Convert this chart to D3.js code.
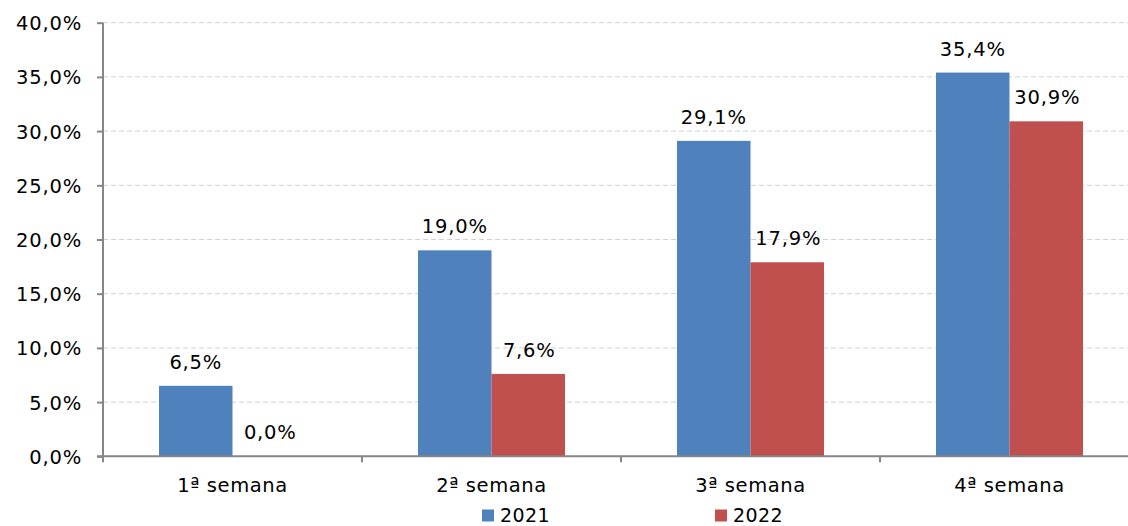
<!DOCTYPE html>
<html><head><meta charset="utf-8">
<script src="https://cdn.jsdelivr.net/npm/d3@7"></script>
<style>body{margin:0;background:#fff}svg{display:block}text{font-family:"DejaVu Sans",Verdana,sans-serif;fill:#000}</style>
</head><body><svg id="c" width="1128" height="526"></svg>
<script>
const categories = ["1ª semana","2ª semana","3ª semana","4ª semana"];
const series = ["2021","2022"];
const values2021 = [6.5, 19.0, 29.1, 35.4];
const values2022 = [0.0, 7.6, 17.9, 30.9];
const yTicks = [0,5,10,15,20,25,30,35,40];
const colors = ["#4F81BD","#C0504D"];

const svg = d3.select("#c");
const fs = 19.5;
const pLeft = 103, pRight = 1139, pTop = 22.7, pBottom = 456.3;
const x = d3.scaleBand().domain(categories).range([pLeft,pRight]).paddingInner(0).paddingOuter(0);
const y = d3.scaleLinear().domain([0,40]).range([pBottom, pTop]);
const fmt = v => v.toFixed(1).replace(".", ",") + "%";

// gridlines
svg.append("g").selectAll("line").data(yTicks.filter(d=>d>0)).join("line")
  .attr("x1", pLeft).attr("x2", 1128).attr("y1", d=>y(d)).attr("y2", d=>y(d))
  .attr("stroke","#d0d0d0").attr("stroke-width",1).attr("stroke-dasharray","5,3");

// y axis
const yAxis = svg.append("g").attr("transform",`translate(${pLeft},0)`)
  .call(d3.axisLeft(y).tickValues(yTicks).tickSize(6).tickPadding(15).tickFormat(fmt));
yAxis.select(".domain").attr("stroke","#868686").attr("stroke-width",2).attr("d",`M0,${pTop}V${pBottom}`);
yAxis.selectAll(".tick line").attr("stroke","#868686").attr("stroke-width",2);
yAxis.selectAll("text").style("font-size",fs+"px").style("letter-spacing","0.8px").attr("dy","0.36em").attr("fill","#000");

// bars
const bw = 73.5;
const sub = d3.scaleBand().domain(series).range([0, 2*bw]);
const data = categories.map((c,i)=>({c, vals:[values2021[i], values2022[i]]}));
const g = svg.append("g");
data.forEach(d=>{
  const x0 = x(d.c) + (x.bandwidth() - 2*bw)/2;
  d.vals.forEach((v,j)=>{
    const xb = x0 + sub(series[j]);
    if (v>0) g.append("rect").attr("x", xb).attr("y", y(v)).attr("width", sub.bandwidth()).attr("height", y(0)-y(v))
      .attr("fill", colors[j]);
    g.append("text").attr("x", xb + sub.bandwidth()/2 + (j===1?1:0)).attr("y", y(v)-17)
      .attr("text-anchor","middle").style("font-size",fs+"px").style("letter-spacing","0.8px").text(fmt(v));
  });
});

// x axis
const xAxis = svg.append("g").attr("transform",`translate(0,${pBottom})`)
  .call(d3.axisBottom(x).tickSize(0).tickPadding(22));
xAxis.select(".domain").attr("stroke","#868686").attr("stroke-width",2).attr("d",`M${pLeft-6},0H1128`);
xAxis.selectAll("text").style("font-size",fs+"px").style("letter-spacing","0.6px").attr("fill","#000");
svg.append("g").selectAll("line").data(d3.range(5)).join("line")
  .attr("x1", i=>pLeft + i*x.step()).attr("x2", i=>pLeft + i*x.step())
  .attr("y1", pBottom).attr("y2", pBottom+6).attr("stroke","#868686").attr("stroke-width",2);

// legend
const leg = svg.append("g");
const legX = [482, 715];
series.forEach((s,j)=>{
  leg.append("rect").attr("x",legX[j]).attr("y",509.5).attr("width",12).attr("height",12).attr("fill",colors[j]);
  leg.append("text").attr("x",legX[j]+18).attr("y",522).style("font-size","19px").style("letter-spacing","0.4px").text(s);
});
</script></body></html>
